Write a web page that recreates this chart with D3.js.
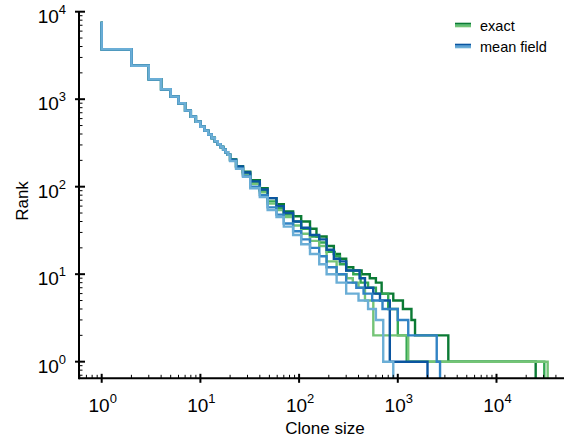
<!DOCTYPE html>
<html>
<head>
<meta charset="utf-8">
<script src="https://cdn.jsdelivr.net/npm/d3@7"></script>
<style>
body { margin: 0; background: #fff; }
svg { font-family: Arial, "Liberation Sans", sans-serif; }
</style>
</head>
<body>
<svg id="chart" width="565" height="445"></svg>
<script>
// Rank plot: each point is (clone size, rank)
// All six runs share the same head for small clones
var headSizes = [1, 2, 3, 4, 5, 6, 7, 8, 9, 10, 11, 12, 13, 14, 15, 16, 17, 18, 19, 20];
var headRanks = [7700, 3720, 2415, 1690, 1300, 1070, 900, 740, 630, 553, 485, 437, 395, 360, 330, 305, 284, 265, 248, 232];

// exact runs (dark, medium, light green)
var exactDarkSizes = [23, 27, 32, 40, 48, 59, 70, 87, 105, 129, 150, 190, 225, 259, 300, 354, 430, 520, 600, 686, 900, 1127, 1375, 1495, 3250, 24950];
var exactDarkRanks = [205, 172, 148, 119, 96, 74, 63, 52, 46, 40, 33, 27, 21, 17, 15, 12, 11, 10, 9, 8, 6, 5, 4, 3, 2, 1];
var exactMidSizes = [23, 27, 32, 40, 48, 59, 70, 87, 105, 129, 160, 190, 230, 259, 300, 354, 420, 500, 600, 800, 1000, 1230, 30500];
var exactMidRanks = [203, 168, 140, 112, 90, 68, 57, 48, 40, 33, 27, 23, 18, 16, 13, 11, 10, 8, 7, 6, 4, 2, 1];
var exactLightSizes = [23, 27, 32, 40, 48, 59, 70, 87, 105, 129, 160, 190, 240, 303, 350, 400, 465, 565, 1276, 33000];
var exactLightRanks = [200, 165, 137, 108, 86, 64, 54, 45, 36, 29, 24, 21, 14, 10, 9, 8, 7, 5, 2, 1];

// mean field runs (dark, medium, light blue)
var meanDarkSizes = [23, 27, 32, 40, 48, 59, 70, 87, 105, 129, 160, 190, 225, 259, 300, 410, 465, 564, 660, 830, 2000];
var meanDarkRanks = [204, 170, 145, 115, 93, 74, 60, 50, 40, 34, 28, 25, 19, 15, 14, 11, 9, 7, 6, 5, 1];
var meanMidSizes = [23, 27, 32, 40, 48, 59, 70, 87, 105, 129, 160, 190, 240, 300, 380, 450, 550, 700, 1000, 1276, 2480, 2680];
var meanMidRanks = [198, 162, 133, 100, 80, 58, 48, 38, 31, 25, 20, 16, 12, 10, 8, 7, 6, 5, 4, 3, 2, 1];
var meanLightSizes = [23, 27, 32, 40, 48, 59, 70, 87, 105, 129, 160, 190, 240, 300, 400, 500, 600, 712, 900];
var meanLightRanks = [196, 160, 130, 96, 76, 54, 45, 35, 28, 22, 17, 13, 10, 8, 6, 5, 4, 3, 1];

var legendLabels = ["exact", "mean field"];
var xTickValues = [1, 10, 100, 1000, 10000];
var yTickValues = [1, 10, 100, 1000, 10000];

var greens = ["#0b7a34", "#34a853", "#74c476"];
var blues = ["#0a55a0", "#3183c4", "#6baed6"];

var svg = d3.select("#chart");

var x = d3.scaleLog()
  .domain([Math.pow(10, -0.23), Math.pow(10, 4.684)])
  .range([79, 564]);
var y = d3.scaleLog()
  .domain([Math.pow(10, -0.19), 10000])
  .range([378.3, 11.7]);

function joinSeries(sizes, ranks) {
  var pts = headSizes.map(function(s, i) { return [s, headRanks[i]]; });
  sizes.forEach(function(s, i) { pts.push([s, ranks[i]]); });
  // last clone drops down off the bottom of the axis
  pts.push([sizes[sizes.length - 1], y.domain()[0]]);
  return pts;
}

var series = [
  { pts: joinSeries(exactDarkSizes, exactDarkRanks), color: greens[0] },
  { pts: joinSeries(exactMidSizes, exactMidRanks), color: greens[1] },
  { pts: joinSeries(exactLightSizes, exactLightRanks), color: greens[2] },
  { pts: joinSeries(meanDarkSizes, meanDarkRanks), color: blues[0] },
  { pts: joinSeries(meanMidSizes, meanMidRanks), color: blues[1] },
  { pts: joinSeries(meanLightSizes, meanLightRanks), color: blues[2] }
];

var line = d3.line()
  .x(function(d) { return x(d[0]); })
  .y(function(d) { return y(d[1]); })
  .curve(d3.curveStepBefore);

svg.append("g")
  .selectAll("path")
  .data(series)
  .enter()
  .append("path")
  .attr("d", function(d) { return line(d.pts); })
  .attr("fill", "none")
  .attr("stroke", function(d) { return d.color; })
  .attr("stroke-width", 2.4);

// minor + major ticks for log axes
function logTicks(scale) {
  var dom = scale.domain(), out = [];
  for (var k = -1; k <= 5; k++) {
    for (var m = 1; m <= 9; m++) {
      var v = m * Math.pow(10, k);
      if (v >= dom[0] && v <= dom[1]) out.push({ v: v, major: m === 1 });
    }
  }
  return out;
}

var x0 = x.range()[0], y0 = y.range()[0];
var axes = svg.append("g").attr("stroke", "#000");

axes.append("line")
  .attr("x1", x0).attr("x2", x.range()[1])
  .attr("y1", y0).attr("y2", y0)
  .attr("stroke-width", 2);
axes.append("line")
  .attr("x1", x0).attr("x2", x0)
  .attr("y1", y0 + 1).attr("y2", y.range()[1])
  .attr("stroke-width", 2);

axes.selectAll(".xt")
  .data(logTicks(x))
  .enter()
  .append("line")
  .attr("x1", function(d) { return x(d.v); })
  .attr("x2", function(d) { return x(d.v); })
  .attr("y1", function(d) { return d.major ? y0 - 4.5 : y0 - 3.5; })
  .attr("y2", function(d) { return d.major ? y0 + 4.5 : y0; })
  .attr("stroke-width", function(d) { return d.major ? 2 : 1; });

axes.selectAll(".yt")
  .data(logTicks(y))
  .enter()
  .append("line")
  .attr("y1", function(d) { return y(d.v); })
  .attr("y2", function(d) { return y(d.v); })
  .attr("x1", function(d) { return d.major ? x0 - 4 : x0; })
  .attr("x2", function(d) { return d.major ? x0 + 6 : x0 + 3.5; })
  .attr("stroke-width", function(d) { return d.major ? 2 : 1; });

// tick labels as 10 with superscript exponent
function powLabel(sel) {
  sel.append("tspan").text("10");
  sel.append("tspan")
    .attr("dy", -9)
    .attr("font-size", 13)
    .text(function(d) { return Math.round(Math.log10(d)); });
}

svg.append("g")
  .selectAll("text")
  .data(xTickValues)
  .enter()
  .append("text")
  .attr("x", function(d) { return x(d) + 1; })
  .attr("y", 412)
  .attr("text-anchor", "middle")
  .attr("font-size", 19)
  .call(powLabel);

svg.append("g")
  .selectAll("text")
  .data(yTickValues)
  .enter()
  .append("text")
  .attr("x", 66)
  .attr("y", function(d) { return y(d) + 11; })
  .attr("text-anchor", "end")
  .attr("font-size", 19)
  .call(powLabel);

svg.append("text")
  .attr("x", 325)
  .attr("y", 434)
  .attr("text-anchor", "middle")
  .attr("font-size", 17)
  .text("Clone size");

svg.append("text")
  .attr("transform", "translate(28,201) rotate(-90)")
  .attr("text-anchor", "middle")
  .attr("font-size", 17)
  .text("Rank");

// legend: each swatch shows the three shades stacked
var legend = svg.append("g");
[greens, blues].forEach(function(shades, i) {
  var ly = 23.5 + i * 21;
  shades.forEach(function(c, j) {
    legend.append("line")
      .attr("x1", 455).attr("x2", 471)
      .attr("y1", ly + j * 1.5).attr("y2", ly + j * 1.5)
      .attr("stroke", c)
      .attr("stroke-width", 1.6);
  });
  legend.append("text")
    .attr("x", 480)
    .attr("y", ly + 7)
    .attr("font-size", 14.5)
    .text(legendLabels[i]);
});
</script>
</body>
</html>
